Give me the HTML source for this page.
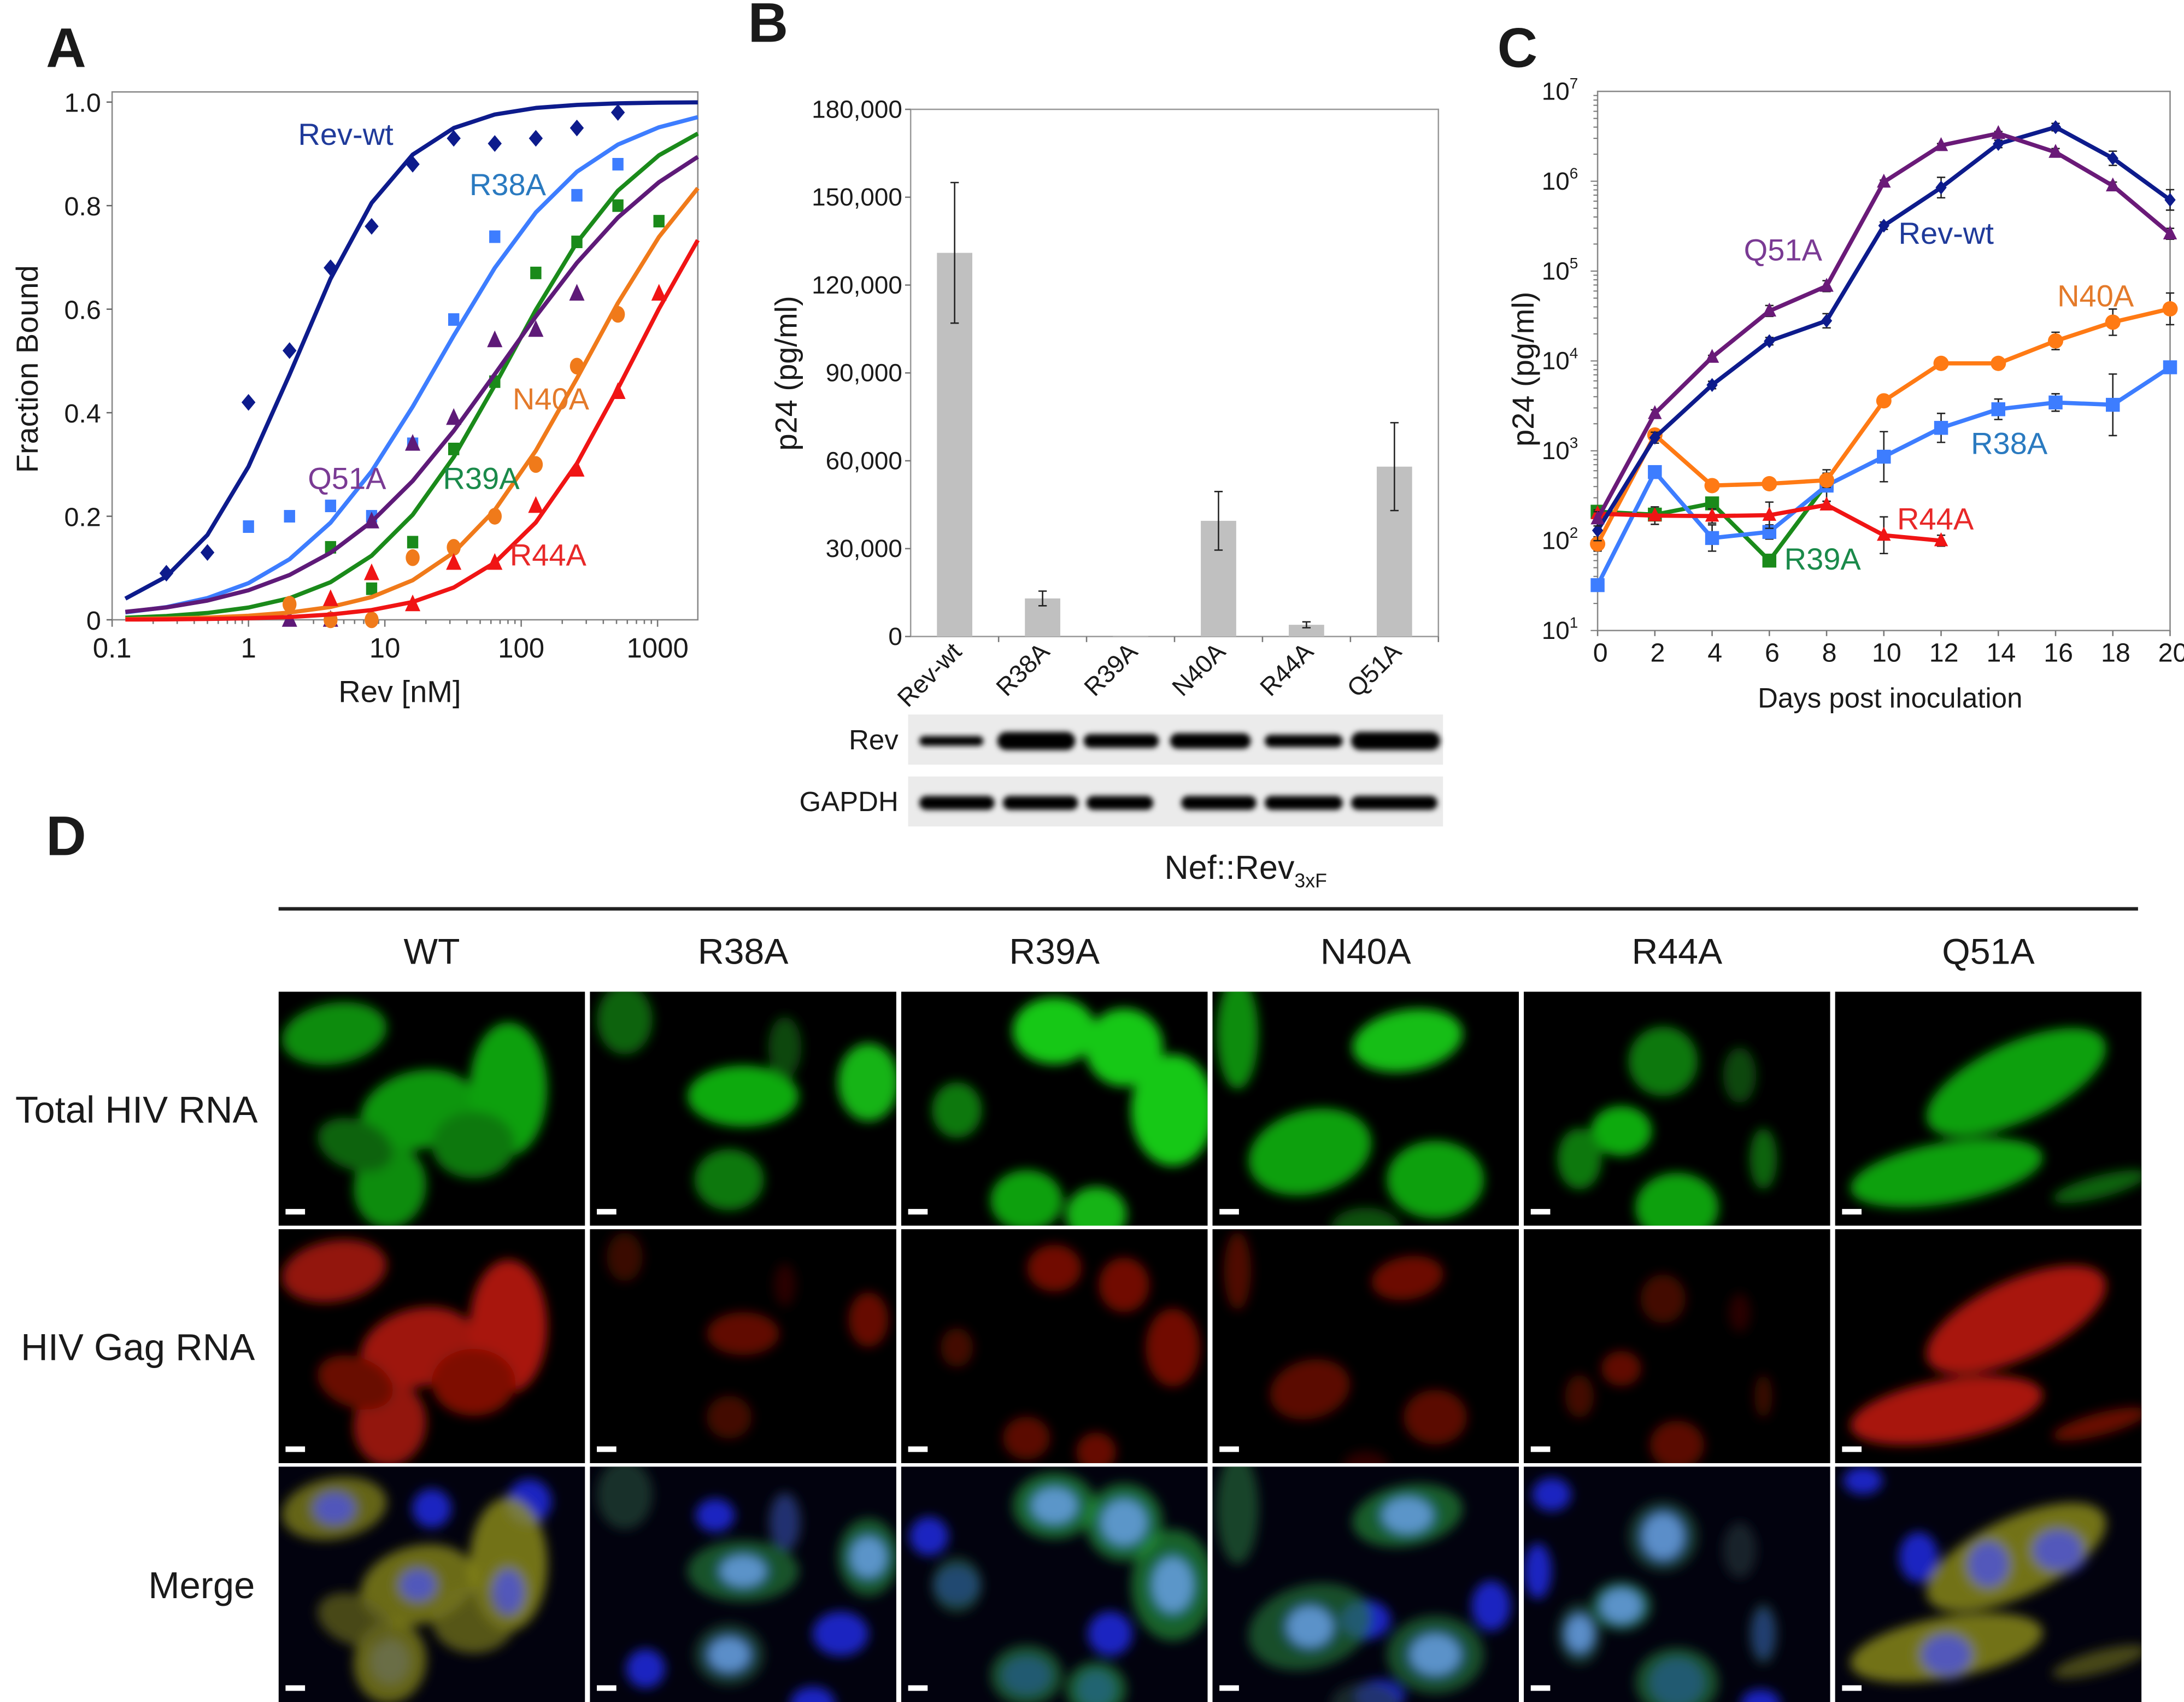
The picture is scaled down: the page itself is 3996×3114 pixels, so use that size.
<!DOCTYPE html>
<html><head><meta charset="utf-8"><style>
html,body{margin:0;padding:0;background:#fff}
svg{display:block}
text{font-family:"Liberation Sans",Arial,sans-serif;fill:#1a1a1a}
</style></head><body>
<svg id="fig" xmlns="http://www.w3.org/2000/svg" width="3996" height="3114" viewBox="0 0 1568 1222" preserveAspectRatio="none">
<defs>
<filter id="blur2" x="-50%" y="-50%" width="200%" height="200%"><feGaussianBlur stdDeviation="2"/></filter>
<filter id="blur4" x="-50%" y="-50%" width="200%" height="200%"><feGaussianBlur stdDeviation="4"/></filter>
</defs>
<text x="33" y="48" font-size="40" font-weight="bold">A</text>
<text x="537" y="30" font-size="40" font-weight="bold">B</text>
<text x="1075" y="48" font-size="40" font-weight="bold">C</text>
<text x="33" y="614" font-size="40" font-weight="bold">D</text>
<g id="pa"></g>
<g id="pb"></g>
<g id="pc"></g>
<g id="pd"></g>
</svg>
<script>
// ---------- Panel A data ----------
const aConc = [0.25,0.5,1,2,4,8,16,32,64,128,256,512,1024];
const aCurveConc = [0.125,0.25,0.5,1,2,4,8,16,32,64,128,256,512,1024,2000];
const aNames = ["Rev-wt","R38A","R39A","Q51A","N40A","R44A"];
const aColors = ["#0d1b8c","#3d7dff","#1a8a1a","#5e1a78","#f07a1a","#f01414"];
const aWt   = [0.09,0.13,0.42,0.52,0.68,0.76,0.88,0.93,0.92,0.93,0.95,0.98,null];
const aR38A = [null,null,0.18,0.20,0.22,0.20,0.34,0.58,0.74,null,0.82,0.88,null];
const aR39A = [null,null,null,null,0.14,0.06,0.15,0.33,0.46,0.67,0.73,0.80,0.77];
const aQ51A = [null,null,null,0.0,0.0,0.19,0.34,0.39,0.54,0.56,0.63,null,null];
const aN40A = [null,null,null,0.03,0.0,0.0,0.12,0.14,0.20,0.30,0.49,0.59,null];
const aR44A = [null,null,null,null,0.04,0.09,0.03,0.11,0.11,0.22,0.29,0.44,0.63];
const aKd   = [2.2,25,80,75,300,650];
const aHill = [1.1,0.8,0.85,0.65,0.85,0.9];
const aYTicks = [0,0.2,0.4,0.6,0.8,1.0];
const aYTickLabels = ["0","0.2","0.4","0.6","0.8","1.0"];
const aXTicks = [0.1,1,10,100,1000];
const aXTickLabels = ["0.1","1","10","100","1000"];
// ---------- Panel B data ----------
const bCats = ["Rev-wt","R38A","R39A","N40A","R44A","Q51A"];
const bVals = [131000,13000,300,39500,4000,58000];
const bErr  = [24000,2500,0,10000,1000,15000];
const bTicks = [0,30000,60000,90000,120000,150000,180000];
const bTickLabels = ["0","30,000","60,000","90,000","120,000","150,000","180,000"];
// ---------- Panel C data ----------
const cDays = [0,2,4,6,8,10,12,14,16,18,20];
const cWt   = [130,1400,5400,16600,28000,320000,850000,2600000,4000000,1800000,620000];
const cQ51A = [175,2600,11000,36000,68000,980000,2500000,3400000,2100000,890000,260000];
const cN40A = [92,1500,410,430,470,3600,9400,9400,16700,27000,38000];
const cR38A = [32,580,107,125,410,860,1800,2900,3450,3250,8500];
const cR39A = [210,195,260,60,430];
const cR44A = [200,190,188,192,250,115,100];
const cErrWt  = [1.3,1.15,1.1,1.1,1.2,1.1,1.3,1.1,1.1,1.2,1.3];
const cErrQ51 = [1.2,1.1,1.05,1.15,1.15,1.05,1.05,1.05,1.1,1.1,1.15];
const cErrN40 = [1.2,1.1,1.1,1.1,1.2,1.05,1.05,1.05,1.25,1.4,1.5];
const cErrR38 = [1.1,1.1,1.4,1.2,1.5,1.9,1.45,1.3,1.25,2.2,1.1];
const cErrR44 = [1.1,1.25,1.2,1.4,1.1,1.6,1.15];
const cYExp = [1,2,3,4,5,6,7];

const NS="http://www.w3.org/2000/svg";
function mk(tag, attrs, parent){const e=document.createElementNS(NS,tag);for(const k in attrs)e.setAttribute(k,attrs[k]);if(parent)parent.appendChild(e);return e;}

// ===== Panel A =====
(function(){
  const g=document.getElementById('pa');
  const x0=80.5,x1=501,yTop=66,y0=445,y1=73.3;
  const dec=97.9;
  const xs=v=>x0+Math.log10(v/0.1)*dec;
  const ys=v=>y0-(y0-y1)*v;
  const box=mk('rect',{x:x0,y:yTop,width:x1-x0,height:y0-yTop,fill:'none',stroke:'#888','stroke-width':1},g);
  
  
  aYTicks.forEach((t,i)=>{
    const l=mk('line',{x1:x0-4,x2:x0,y1:ys(t),y2:ys(t),stroke:'#666'},g);
    
    
    const tx=mk('text',{x:x0-8,y:ys(t)+7,'font-size':19,'text-anchor':'end'},g);
    tx.textContent=aYTickLabels[i];
    
    
  });
  for(let d=-1;d<=3;d++){for(let m=1;m<10;m++){const v=Math.pow(10,d)*m;const x=xs(v);if(x>x1)break;
    const l=mk('line',{x1:x,x2:x,y1:y0,y2:y0+(m==1?5:3),stroke:'#777'},g);
    
    }}
  aXTicks.forEach((t,i)=>{
    const tx=mk('text',{x:xs(t),y:472,'font-size':20,'text-anchor':'middle'},g);
    tx.textContent=aXTickLabels[i];
    
    
  });
  const xt=mk('text',{x:287,y:504,'font-size':22,'text-anchor':'middle'},g);xt.textContent='Rev [nM]';
  
  
  const yt=mk('text',{x:0,y:0,'font-size':22,'text-anchor':'middle',transform:'translate(27,265) rotate(-90)'},g);yt.textContent='Fraction Bound';
  
  
  const series=[aWt,aR38A,aR39A,aQ51A,aN40A,aR44A];
  const shapes=['diamond','square','square','triangle','circle','triangle'];
  series.forEach((s,k)=>{
    const pts=aCurveConc.map(c=>{const f=1/(1+Math.pow(aKd[k]/c,aHill[k]));const px=Math.min(xs(c),x1);return px.toFixed(1)+','+ys(f).toFixed(1);});
    const pl=mk('polyline',{points:pts.join(' '),fill:'none',stroke:aColors[k],'stroke-width':3,'stroke-linejoin':'round'},g);
    
    
    s.forEach((v,i)=>{ if(v===null)return; const cx=xs(aConc[i]),cy=ys(v);let m;
      if(shapes[k]==='diamond')m=mk('polygon',{points:`${cx},${cy-6} ${cx+5},${cy} ${cx},${cy+6} ${cx-5},${cy}`,fill:aColors[k]},g);
      else if(shapes[k]==='square')m=mk('rect',{x:cx-4,y:cy-4.5,width:8,height:9,fill:aColors[k]},g);
      else if(shapes[k]==='triangle')m=mk('polygon',{points:`${cx},${cy-7} ${cx+5.5},${cy+5} ${cx-5.5},${cy+5}`,fill:aColors[k]},g);
      else m=mk('ellipse',{cx:cx,cy:cy,rx:5,ry:6,fill:aColors[k]},g);
      
      
    });
  });
  const labs=[["Rev-wt",214,104,"#1f3a9a"],["R38A",337,140,"#2a7ac0"],["N40A",368,294,"#e47a2a"],["Q51A",221,351,"#7a3a94"],["R39A",318,351,"#1a8a4a"],["R44A",366,406,"#e82828"]];
  labs.forEach(l=>{const t=mk('text',{x:l[1],y:l[2],'font-size':22,style:'fill:'+l[3]},g);t.textContent=l[0];
    
    });
})();

// ===== Panel B =====
(function(){
  const g=document.getElementById('pb');
  const x0=653.8,x1=1032.7,y0=457,yTop=78.5;
  const ys=v=>y0-(y0-yTop)*v/180000;
  const step=(x1-x0)/bCats.length;
  const box=mk('rect',{x:x0,y:yTop,width:x1-x0,height:y0-yTop,fill:'none',stroke:'#999','stroke-width':1},g);
  
  
  bTicks.forEach((t,i)=>{
    const l=mk('line',{x1:x0-4,x2:x0,y1:ys(t),y2:ys(t),stroke:'#777'},g);
    
    
    const tx=mk('text',{x:x0-6,y:ys(t)+6,'font-size':18,'text-anchor':'end'},g);tx.textContent=bTickLabels[i];
    
    
  });
  const yt=mk('text',{x:0,y:0,'font-size':22,'text-anchor':'middle',transform:'translate(572,268) rotate(-90)'},g);yt.textContent='p24 (pg/ml)';
  
  
  bCats.forEach((c,i)=>{
    const cx=x0+step*(i+0.5);
    const tk=mk('line',{x1:x0+step*(i+1),x2:x0+step*(i+1),y1:y0,y2:y0+4,stroke:'#777'},g);
    
    
    const r=mk('rect',{x:cx-12.7,y:ys(bVals[i]),width:25.4,height:y0-ys(bVals[i]),fill:'#c0c0c0'},g);
    
    
    if(bErr[i]>0){
      const e=mk('path',{d:`M${cx},${ys(bVals[i]+bErr[i])}V${ys(bVals[i]-bErr[i])}M${cx-3},${ys(bVals[i]+bErr[i])}h6M${cx-3},${ys(bVals[i]-bErr[i])}h6`,stroke:'#222','stroke-width':1,fill:'none'},g);
      
      
    }
    const tx=mk('text',{x:0,y:0,'font-size':18,'text-anchor':'end',transform:`translate(${cx+6},${y0+12}) rotate(-45)`},g);tx.textContent=c;
    
    
  });
  const blots=[["Rev",513,549,[[660,706,7],[716,772,13],[778,832,10],[840,898,11],[908,964,9],[970,1034,13]]],
               ["GAPDH",557.5,593.4,[[660,714,10],[720,774,10],[780,828,10],[848,902,10],[908,964,10],[970,1032,10]]]];
  blots.forEach(b=>{
    const r=mk('rect',{x:652,y:b[1],width:384,height:b[2]-b[1],fill:'#ebebeb'},g);
    
    
    const cy=(b[1]+b[2])/2;
    b[3].forEach(bd=>{const e=mk('rect',{x:bd[0],y:cy-bd[2]/2+1,width:bd[1]-bd[0],height:bd[2],rx:bd[2]/2,fill:'#050505',filter:'url(#blur2)'},g);
      
      });
    const t=mk('text',{x:645,y:cy+7,'font-size':20,'text-anchor':'end'},g);t.textContent=b[0];
    
    
  });
  const nt=mk('text',{x:836,y:631,'font-size':24},g);
  nt.innerHTML='Nef::Rev<tspan font-size="14" dy="6">3xF</tspan>';
  
  
})();

// ===== Panel C =====
(function(){
  const g=document.getElementById('pc');
  const x0=1147,x1=1558,yT=65.6,yB=452.7;
  const dec=(yB-yT)/6;
  const xs=d=>x0+(x1-x0)*d/20;
  const ys=v=>yB-(Math.log10(v)-1)*dec;
  const box=mk('rect',{x:x0,y:yT,width:x1-x0,height:yB-yT,fill:'none',stroke:'#888','stroke-width':1},g);
  
  
  cYExp.forEach(p=>{
    const y=yB-(p-1)*dec;
    const t=mk('text',{x:x0-14,y:y+6,'font-size':18,'text-anchor':'end'},g);
    t.innerHTML='10<tspan font-size="11" dy="-8">'+p+'</tspan>';
    
    
    if(p<7)for(let m=1;m<10;m++){const yy=y-Math.log10(m)*dec;
      const l=mk('line',{x1:x0-(m==1?5:3),x2:x0,y1:yy,y2:yy,stroke:'#777','stroke-width':0.8},g);
      
      }
  });
  cDays.forEach(d=>{
    const l=mk('line',{x1:xs(d),x2:xs(d),y1:yB,y2:yB+4,stroke:'#777'},g);
    
    
    const t=mk('text',{x:xs(d)+2,y:475,'font-size':19,'text-anchor':'middle'},g);t.textContent=d;
    
    
  });
  const xt=mk('text',{x:1357,y:508,'font-size':20,'text-anchor':'middle'},g);xt.textContent='Days post inoculation';
  
  
  const yt=mk('text',{x:0,y:0,'font-size':22,'text-anchor':'middle',transform:'translate(1101,265) rotate(-90)'},g);yt.textContent='p24 (pg/ml)';
  
  
  const series=[["r39a",cR39A,null,"#1a8a1a","square"],["r38a",cR38A,cErrR38,"#3d7dff","square"],["n40a",cN40A,cErrN40,"#ff7a14","circle"],["r44a",cR44A,cErrR44,"#f01414","triangle"],["rev-wt",cWt,cErrWt,"#0d1b8c","diamond"],["q51a",cQ51A,cErrQ51,"#6a1a78","triangle"]];
  series.forEach(s=>{
    const vals=s[1];
    if(s[2])vals.forEach((v,i)=>{const x=xs(cDays[i]);const hi=ys(v*s[2][i]),lo=ys(v/s[2][i]);
      const e=mk('path',{d:`M${x},${hi}V${lo}M${x-3},${hi}h6M${x-3},${lo}h6`,stroke:'#222','stroke-width':1,fill:'none'},g);
      
      });
    const pts=vals.map((v,i)=>xs(cDays[i]).toFixed(1)+','+ys(v).toFixed(1)).join(' ');
    const pl=mk('polyline',{points:pts,fill:'none',stroke:s[3],'stroke-width':3,'stroke-linejoin':'round'},g);
    
    
    vals.forEach((v,i)=>{const cx=xs(cDays[i]),cy=ys(v);let m;
      if(s[4]==='diamond')m=mk('polygon',{points:`${cx},${cy-5} ${cx+4},${cy} ${cx},${cy+5} ${cx-4},${cy}`,fill:s[3]},g);
      else if(s[4]==='square')m=mk('rect',{x:cx-5,y:cy-5,width:10,height:10,fill:s[3]},g);
      else if(s[4]==='triangle')m=mk('polygon',{points:`${cx},${cy-6} ${cx+5},${cy+4} ${cx-5},${cy+4}`,fill:s[3]},g);
      else m=mk('circle',{cx:cx,cy:cy,r:5.5,fill:s[3]},g);
      
      });
  });
  const labs=[["Q51A",1252,187,"#7a3a94"],["Rev-wt",1363,175,"#1f3a9a"],["N40A",1477,220,"#e47a2a"],["R38A",1415,326,"#2a7ac0"],["R44A",1362,380,"#e82828"],["R39A",1281,409,"#1a8a4a"]];
  labs.forEach(l=>{const t=mk('text',{x:l[1],y:l[2],'font-size':22,style:'fill:'+l[3]},g);t.textContent=l[0];
    
    });
})();

// ===== Panel D =====
(function(){
  const g=document.getElementById('pd');
  const hl=mk('line',{x1:200,x2:1535,y1:652.5,y2:652.5,stroke:'#222','stroke-width':2.5},g);
  
  
  const cols=["WT","R38A","R39A","N40A","R44A","Q51A"];
  const colX=[200,423.5,647,870.5,1094,1317.5];
  const rowY=[712,882.5,1053];
  const rows=["Total HIV RNA","HIV Gag RNA","Merge"];
  const W=220,H=[168,168,169];
  const cells=[
    [[40,30,38,22,-10,0.7],[100,85,42,28,-15,0.75],[165,70,28,48,0,0.8],[80,140,26,30,10,0.7],[140,110,30,24,0,0.6],[55,110,28,18,20,0.5]],
    [[25,20,20,25,0,0.5],[110,75,40,22,0,0.85],[200,65,22,28,0,0.9],[100,135,25,22,0,0.6],[140,40,12,22,0,0.35]],
    [[110,28,30,24,0,1],[160,40,28,28,0,1],[195,85,30,40,0,1],[40,85,18,20,0,0.6],[90,150,26,22,0,0.8],[140,160,22,20,0,0.9]],
    [[18,30,15,40,0,0.7],[140,35,40,22,-10,0.95],[70,115,45,30,-15,0.8],[160,135,35,28,0,0.8],[110,170,25,15,0,0.4]],
    [[100,50,25,25,0,0.6],[70,100,22,18,0,0.85],[40,120,16,22,0,0.6],[110,155,30,25,0,0.8],[172,120,10,22,0,0.5],[155,60,12,20,0,0.35]],
    [[130,65,70,28,-25,0.8],[80,130,70,22,-10,0.8],[190,140,35,8,-15,0.5]]
  ];
  const nuclei=[
    [[40,30,18,14],[100,85,16,14],[165,90,14,20],[80,140,14,16],[180,25,16,16],[110,30,14,14]],
    [[110,75,20,14],[200,65,16,18],[100,135,18,15],[140,40,10,20],[90,35,14,12],[180,120,20,16],[40,145,14,14],[160,170,16,12]],
    [[110,28,20,16],[160,40,20,20],[195,85,18,24],[40,85,16,14],[90,150,18,14],[140,160,14,14],[150,120,16,16],[20,50,14,14]],
    [[140,35,22,16],[70,115,20,18],[160,135,22,18],[110,110,18,14],[120,165,18,12],[200,100,14,18]],
    [[100,50,18,20],[70,100,18,15],[40,120,12,16],[110,155,20,18],[172,120,8,18],[10,75,10,20],[20,20,14,12],[170,170,14,10]],
    [[160,60,22,18],[110,70,18,20],[80,135,22,18],[60,65,14,18],[20,10,14,10]]
  ];
  rows.forEach((r,ri)=>{
    const t=mk('text',{x:ri==0?185:183,y:rowY[ri]+H[ri]/2+10,'font-size':27,'text-anchor':'end'},g);t.textContent=r;
    
    
  });
  cols.forEach((c,ci)=>{
    const t=mk('text',{x:colX[ci]+W/2,y:692,'font-size':26,'text-anchor':'middle'},g);t.textContent=c;
    
    
    rows.forEach((r,ri)=>{
      const x=colX[ci],y=rowY[ri];
      const cp=mk('clipPath',{id:`cp${ci}${ri}`},g);mk('rect',{x:x,y:y,width:W,height:H[ri]},cp);
      const tile=mk('g',{'clip-path':`url(#cp${ci}${ri})`},g);
      
      
      mk('rect',{x:x,y:y,width:W,height:H[ri],fill:ri==2?'#02020e':'#000'},tile);
      const blur=mk('g',{filter:'url(#blur4)'},tile);
      if(ri==2){
        nuclei[ci].forEach(n=>{mk('ellipse',{cx:x+n[0],cy:y+n[1],rx:n[2],ry:n[3],fill:'#1e2ae0',opacity:0.85},blur);});
      }
      cells[ci].forEach(cl=>{
        let col;
        if(ri==0)col=`rgb(${Math.round(20*cl[5])},${Math.round(200*cl[5])},${Math.round(20*cl[5])})`;
        else if(ri==1)col=`rgb(${Math.round(210*cl[5]*(ci==0||ci==5?1:0.9))},${Math.round(25*cl[5])},${Math.round(10*cl[5])})`;
        else col=(ci==0||ci==5)?`rgba(${Math.round(190*cl[5])},${Math.round(190*cl[5])},30,0.75)`:`rgba(40,${Math.round(160*cl[5])},60,0.6)`;
        const op=(ri==1&&!(ci==0||ci==5))?0.6:1;
        mk('ellipse',{cx:x+cl[0],cy:y+cl[1],rx:ri==1&&!(ci==0||ci==5)?cl[2]*0.65:cl[2],ry:ri==1&&!(ci==0||ci==5)?cl[3]*0.7:cl[3],transform:`rotate(${cl[4]} ${x+cl[0]} ${y+cl[1]})`,fill:col,opacity:op},blur);
      });
      if(ri==2){
        nuclei[ci].slice(0,3).forEach(n=>{mk('ellipse',{cx:x+n[0],cy:y+n[1],rx:n[2]*0.8,ry:n[3]*0.8,fill:(ci==0||ci==5)?'#4a50d8':'#6aa0e0',opacity:0.8},blur);});
      }
      const sb=mk('rect',{x:x+5,y:y+H[ri]-12,width:14,height:4,fill:'#fff'},tile);
      
      
    });
  });
})();
</script>
</body></html>
